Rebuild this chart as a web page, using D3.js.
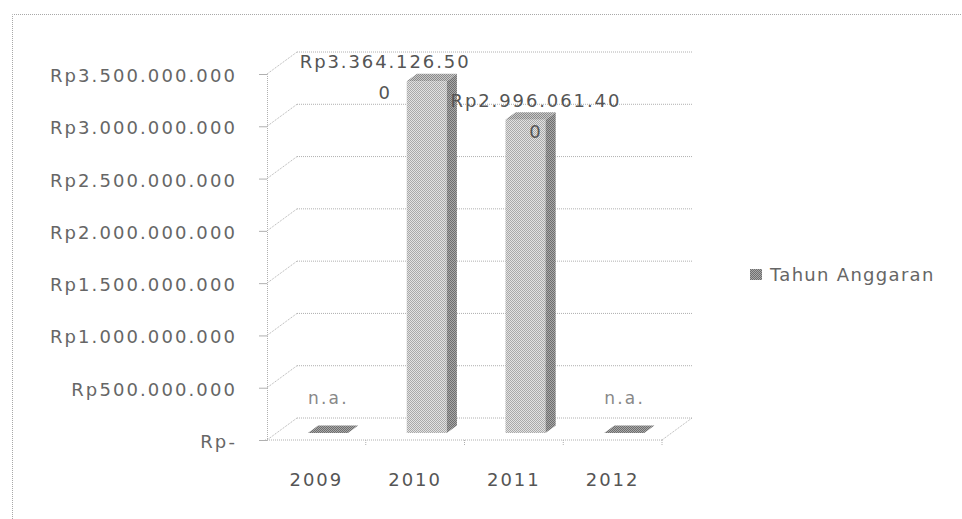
<!DOCTYPE html>
<html>
<head>
<meta charset="utf-8">
<script src="https://cdn.jsdelivr.net/npm/d3@7"></script>
<style>
  body { margin: 0; background: #fff; }
  text { font-family: "DejaVu Sans", Verdana, sans-serif; }
</style>
</head>
<body>
<div id="chart"></div>
<script>
const years = ["2009", "2010", "2011", "2012"]
const values = [0, 3364126500, 2996061400, 0]
const valueLabels = ["n.a.", "Rp3.364.126.500", "Rp2.996.061.400", "n.a."]
const yTicks = [0, 500000000, 1000000000, 1500000000, 2000000000, 2500000000, 3000000000, 3500000000]
const yTickLabels = ["Rp-", "Rp500.000.000", "Rp1.000.000.000", "Rp1.500.000.000", "Rp2.000.000.000",
                     "Rp2.500.000.000", "Rp3.000.000.000", "Rp3.500.000.000"]
const seriesName = "Tahun Anggaran"

const W = 962, H = 519
const depthX = 30, depthY = -22

const svg = d3.select("#chart").append("svg")
  .attr("width", W).attr("height", H)

// halftone-ish fills like the scanned print
const defs = svg.append("defs")
function checker(id, a, b) {
  const p = defs.append("pattern").attr("id", id)
    .attr("width", 2).attr("height", 2).attr("patternUnits", "userSpaceOnUse")
  p.append("rect").attr("width", 2).attr("height", 2).attr("fill", b)
  p.append("rect").attr("width", 1).attr("height", 1).attr("fill", a)
  p.append("rect").attr("x", 1).attr("y", 1).attr("width", 1).attr("height", 1).attr("fill", a)
}
checker("front", "#a9a9a9", "#e2e2e2")
checker("side", "#6e6e6e", "#a8a8a8")
checker("top", "#8a8a8a", "#c9c9c9")

// outer chart border
svg.append("path")
  .attr("d", "M12.5," + H + "V14.5H" + W)
  .attr("fill", "none").attr("stroke", "#a8a8a8").attr("stroke-dasharray", "1,1")

const x = d3.scaleBand().domain(years).range([267, 662])
const y = d3.scaleLinear().domain([0, 3500000000]).range([440, 74])

const proj = (px, v, z) => [px + depthX * z, y(v) + depthY * z]
const x0 = x.range()[0], x1 = x.range()[1]

const grid = svg.append("g")
  .attr("fill", "none").attr("stroke", "#b0b0b0").attr("stroke-dasharray", "1,1")

// back wall lines + side wall diagonals
yTicks.forEach(t => {
  const a = proj(x0, t, 1), b = proj(x1, t, 1), f = proj(x0, t, 0)
  grid.append("line").attr("x1", a[0]).attr("y1", a[1]).attr("x2", b[0]).attr("y2", b[1])
  grid.append("line").attr("x1", f[0]).attr("y1", f[1]).attr("x2", a[0]).attr("y2", a[1])
})

// floor front edge and right edge
const fl = proj(x0, 0, 0), fr = proj(x1, 0, 0), br = proj(x1, 0, 1)
grid.append("line").attr("x1", fl[0] - 2).attr("y1", fl[1]).attr("x2", fr[0]).attr("y2", fr[1])
grid.append("line").attr("x1", fr[0]).attr("y1", fr[1]).attr("x2", br[0]).attr("y2", br[1])

// y axis
const yAxis = d3.axisLeft(y).tickValues(yTicks).tickSize(8).tickPadding(22)
  .tickFormat((d, i) => yTickLabels[i])
const gy = svg.append("g").attr("transform", "translate(" + x0 + ",0)").call(yAxis)
gy.select(".domain").attr("stroke", "#b0b0b0").attr("stroke-dasharray", "1,1")
gy.selectAll(".tick line").attr("stroke", "#b0b0b0")
gy.selectAll(".tick text")
  .attr("font-size", 18).attr("fill", "#666").attr("letter-spacing", 2.1)
  .attr("font-family", "DejaVu Sans").attr("dy", "0.42em")

// x axis
const xAxis = d3.axisBottom(x).tickSize(0).tickPadding(33)
const gx = svg.append("g").attr("transform", "translate(0," + y(0) + ")").call(xAxis)
gx.select(".domain").remove()
gx.selectAll(".tick text")
  .attr("font-size", 18).attr("fill", "#555").attr("letter-spacing", 2)
  .attr("font-family", "DejaVu Sans")
years.forEach((d, i) => {
  if (i === 0) return
  svg.append("line").attr("x1", x(d)).attr("x2", x(d)).attr("y1", y(0)).attr("y2", y(0) + 6)
    .attr("stroke", "#b0b0b0").attr("stroke-dasharray", "1,1")
})
svg.append("line").attr("x1", x1).attr("x2", x1).attr("y1", y(0)).attr("y2", y(0) + 6)
  .attr("stroke", "#b0b0b0").attr("stroke-dasharray", "1,1")

// 3d bars
const zF = 0.32, zB = 0.66
const barW = 40
const bars = svg.append("g")
years.forEach((d, i) => {
  const bx = x(d) + x.bandwidth() / 2 + 2 - barW / 2
  const v = values[i]
  const p = (px, vv, z) => proj(px, vv, z).join(",")
  if (v > 0) {
    bars.append("polygon").attr("fill", "url(#front)")
      .attr("points", [p(bx, 0, zF), p(bx + barW, 0, zF), p(bx + barW, v, zF), p(bx, v, zF)].join(" "))
    bars.append("polygon").attr("fill", "url(#side)")
      .attr("points", [p(bx + barW, 0, zF), p(bx + barW, 0, zB), p(bx + barW, v, zB), p(bx + barW, v, zF)].join(" "))
  }
  bars.append("polygon").attr("fill", v > 0 ? "url(#top)" : "url(#side)")
    .attr("points", [p(bx, v, zF), p(bx + barW, v, zF), p(bx + barW, v, zB), p(bx, v, zB)].join(" "))

  // data labels
  const top = proj(bx, v, zF)
  const cx = bx + barW / 2
  if (v > 0) {
    const lx = i === 1 ? cx - 32 : cx + 20
    const txt = valueLabels[i]
    const t = svg.append("text").attr("text-anchor", "middle")
      .attr("font-size", 18).attr("fill", "#555").attr("letter-spacing", 1.9)
    t.append("tspan").attr("x", lx).attr("y", top[1] - 13).text(txt.slice(0, -1))
    t.append("tspan").attr("x", lx).attr("y", top[1] + 18).text(txt.slice(-1))
  } else {
    svg.append("text").attr("text-anchor", "middle")
      .attr("x", cx + 10).attr("y", y(0) - 36)
      .attr("font-size", 17).attr("fill", "#888").attr("letter-spacing", 2.2)
      .text(valueLabels[i])
  }
})

// legend
const lg = svg.append("g").attr("transform", "translate(750,269)")
lg.append("rect").attr("width", 12).attr("height", 11).attr("fill", "url(#side)")
lg.append("text").attr("x", 20).attr("y", 5.5).attr("dy", "0.36em")
  .attr("font-size", 18).attr("fill", "#666").attr("letter-spacing", 1.3)
  .text(seriesName)
</script>
</body>
</html>
